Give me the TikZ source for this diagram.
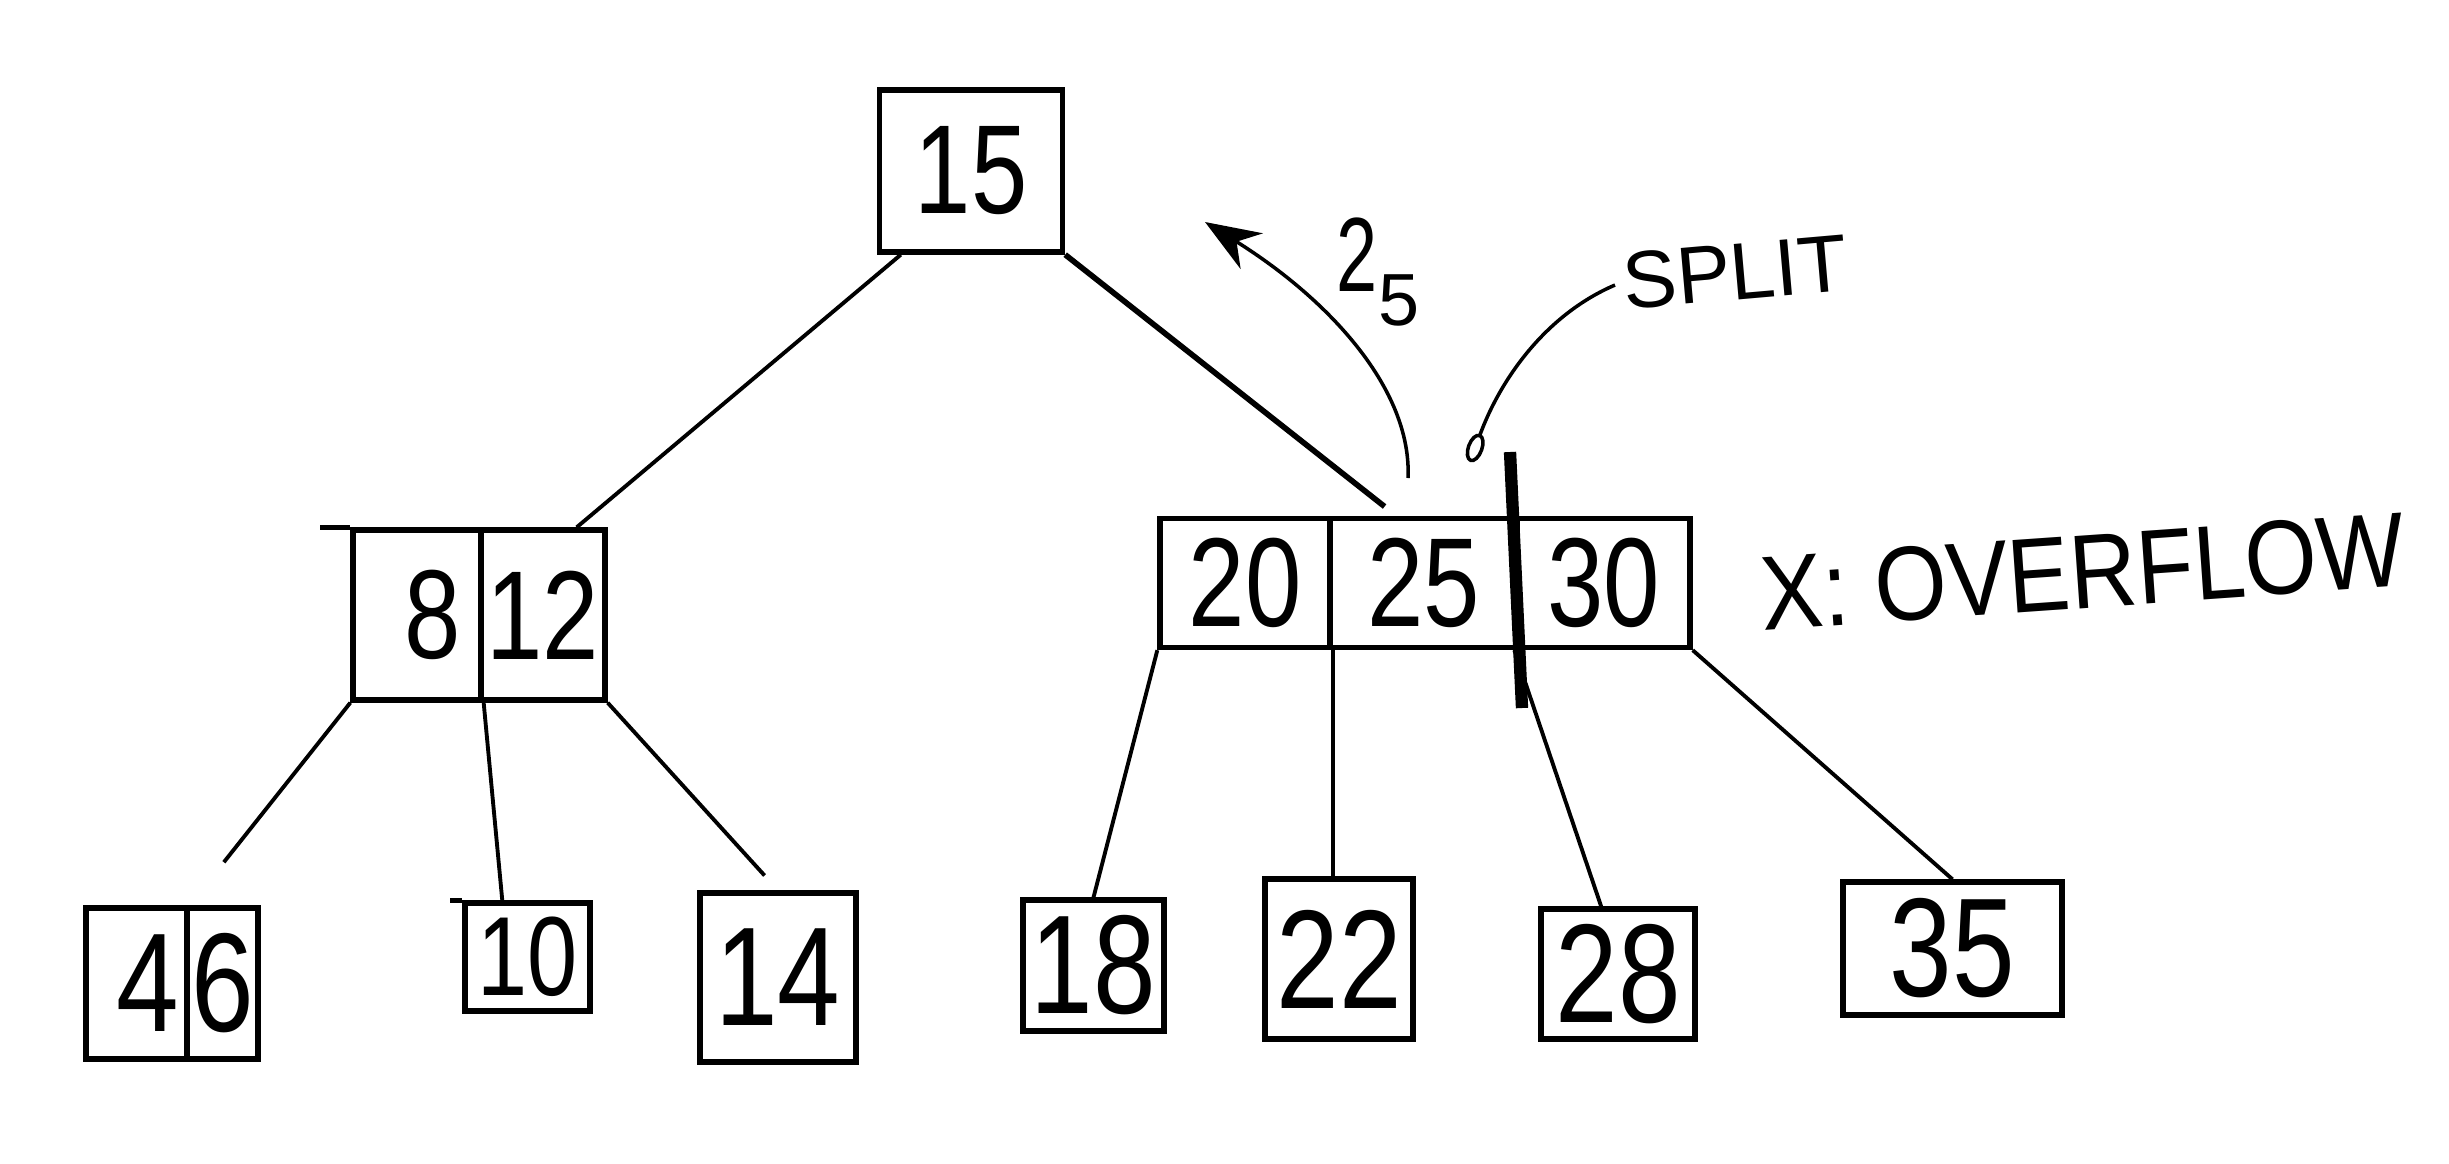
\documentclass[tikz,border=0pt]{standalone}
\usepackage{fontspec}
\setmainfont{Liberation Sans}
\usepackage{graphicx}
\usetikzlibrary{arrows.meta}
% handwritten digits are narrow: squeeze the text horizontally
\newcommand{\handnum}[1]{\scalebox{0.8}[1]{#1}}
\begin{document}
\begin{tikzpicture}[x=0.01cm, y=-0.01cm,
  keybox/.style={draw, line width=1.5pt, inner sep=0pt, font=\fontsize{36}{36}\selectfont},
  leafbox/.style={keybox, font=\fontsize{40}{40}\selectfont},
  link/.style={line width=1.1pt},
  note/.style={line width=1pt},
]
\fill[white] (0,0) rectangle (2449,1163);
\useasboundingbox (0,0) rectangle (2449,1163);

% root
\node[keybox, minimum width=1.83cm, minimum height=1.62cm] (r15) at (971,171) {\handnum{15}};

% left inner node: 8 | 12
\node[keybox, minimum height=1.70cm, inner xsep=0.2cm, text width=0.88cm, align=right] (n8) at (417,615) {\handnum{8}};
\node[keybox, minimum width=1.24cm, minimum height=1.70cm] (n12) at (543,615) {\handnum{12}};
\draw[line width=1.5pt] (n8.north west) -- ++(-30,0);

% right inner node: 20 | 25 | 30
\node[keybox, minimum width=1.70cm, minimum height=1.29cm] (n20) at (1245,583) {\handnum{20}};
\node[keybox, minimum width=1.87cm, minimum height=1.29cm] (n25) at (1423.5,583) {\handnum{25}};
\node[keybox, minimum width=1.73cm, minimum height=1.29cm] (n30) at (1603.5,583) {\handnum{30}};

% leaves
\node[leafbox, minimum height=1.51cm, inner xsep=0.08cm, text width=0.85cm, align=right] (a4) at (136.5,983.5) {\handnum{4}};
\node[leafbox, minimum width=0.71cm, minimum height=1.51cm] (a6) at (222.5,983.5) {\handnum{6}};
\node[leafbox, font=\fontsize{32}{32}\selectfont, minimum width=1.25cm, minimum height=1.08cm] (a10) at (527.5,957) {\handnum{10}};
\draw[line width=1.5pt] (a10.north west) -- ++(-12,0);
\node[leafbox, minimum width=1.56cm, minimum height=1.69cm] (a14) at (778,977.5) {\handnum{14}};
\node[leafbox, minimum width=1.41cm, minimum height=1.31cm] (a18) at (1093.5,965.5) {\handnum{18}};
\node[leafbox, minimum width=1.48cm, minimum height=1.60cm] (a22) at (1339,959) {\handnum{22}};
\node[leafbox, minimum width=1.54cm, minimum height=1.30cm] (a28) at (1618,974) {\handnum{28}};
\node[leafbox, minimum width=2.19cm, minimum height=1.33cm] (a35) at (1952.5,948.5) {\handnum{35}};

% tree edges
\draw[link] (r15.230) -- (n12.69);
\draw[link, line width=1.6pt, shorten >=0.15cm] (r15.south east) -- (n25.112);
\draw[link, shorten >=0.55cm] (n8.south west) -- (a4.north east);
\draw[link] (n8.south east) -- (a10.114);
\draw[link, shorten >=0.2cm] (n12.south east) -- (a14.north);
\draw[link] (n20.south west) -- (a18.north);
\draw[link] (n20.south east) -- (n20.south east |- a22.north);
\draw[link] (n30.south west) -- (a28.104);
\draw[link] (n30.south east) -- (a35.north);

% split mark through the overflowing node
\coordinate (cuttop) at (1510,452);
\coordinate (cutbot) at (1522,708);
\draw[line width=3.5pt] (cuttop) -- (cutbot);

% 25 moves up to the parent
\coordinate (ins) at (1408,478);
\coordinate (upend) at (1205,222);
\draw[note, -{Stealth[length=0.55cm, width=0.42cm]}] (ins) .. controls (1412,390) and (1330,300) .. (upend);
\node[inner sep=0pt] (lbl25) at (1378,272)
  {{\fontsize{30}{30}\selectfont\scalebox{0.7}[1]{2}}\raisebox{-0.34cm}{\fontsize{21}{21}\selectfont 5}};

% split annotation
\node[rotate=5, font=\fontsize{23}{23}\selectfont, inner sep=0pt] (splitlbl) at (1735,272) {SPLIT};
\coordinate (splittip) at (1470,462);
\draw[note, shorten <=0.08cm, -{Ellipse[open, length=0.3cm, width=0.17cm]}] (splitlbl.west) .. controls (1545,315) and (1500,380) .. (splittip);

% overflow remark
\node[rotate=4, font=\fontsize{30}{30}\selectfont, inner sep=0pt] (ovf) at (2083,572) {\scalebox{0.88}[1]{X: OVERFLOW}};
\end{tikzpicture}
\end{document}
